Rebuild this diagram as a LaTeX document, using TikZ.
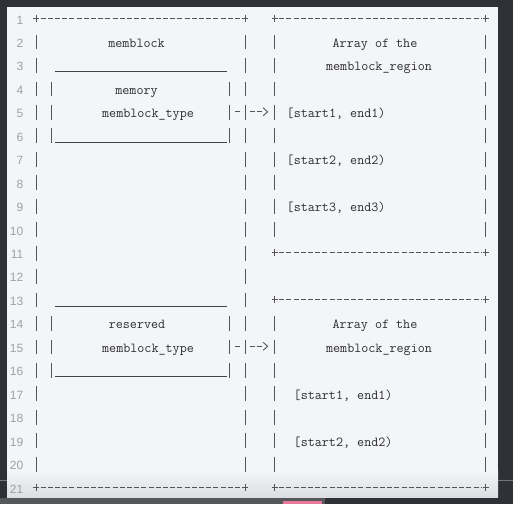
\documentclass[tikz,border=0pt]{standalone}
\usepackage{fontspec}
\usetikzlibrary{arrows.meta}
\newfontfamily\lnumf{Liberation Sans}
\definecolor{darkbg}{HTML}{2F3136}
\definecolor{stripgray}{HTML}{55575B}
\definecolor{pinkc}{HTML}{E9789B}
\definecolor{panel}{HTML}{F3F5F8}
\definecolor{panelbot}{HTML}{DCDEE1}
\definecolor{margline}{HTML}{75777B}
\definecolor{inkc}{HTML}{2E2E2E}
\definecolor{barc}{HTML}{555555}
\definecolor{lnumc}{HTML}{A0A0A0}
\def\ry#1{(-18-23.45*(#1-1))}
\tikzset{
  bar/.style={barc, line width=0.9pt},
  border/.style={barc, line width=0.9pt, dash pattern=on 5pt off 2.2pt},
  uline/.style={inkc!90, line width=1pt},
  txt/.style={inner sep=0pt, text=inkc, font=\ttfamily\fontsize{13.7}{15}\selectfont},
  lnum/.style={inner sep=0pt, text=lnumc, anchor=base east, font=\lnumf\fontsize{12}{14}\selectfont},
  conn/.style={barc, line width=0.9pt, dash pattern=on 5pt off 10pt on 5pt off 2.2pt on 5pt off 60pt,
    -{Straight Barb[length=4.5pt,width=8pt]}},
}
\newcommand\vbarat[2]{\draw[bar] (#1,{\ry{#2}+6.8}) -- (#1,{\ry{#2}-8});}
\newcommand\hborder[3]{%
  \draw[bar] (#1-3,{\ry{#3}}) -- (#1+3,{\ry{#3}}) (#1,{\ry{#3}+3.5}) -- (#1,{\ry{#3}-3.5});
  \draw[bar] (#2-3,{\ry{#3}}) -- (#2+3,{\ry{#3}}) (#2,{\ry{#3}+3.5}) -- (#2,{\ry{#3}-3.5});
  \draw[border] (#1+4.6,{\ry{#3}}) -- (#2-4.6,{\ry{#3}});}
\begin{document}
\begin{tikzpicture}[x=1pt,y=1pt]
\useasboundingbox (0,0) rectangle (513,-504);
% frame and panel
\fill[darkbg] (0,0) rectangle (513,-504);
\fill[stripgray] (0,-497.5) rectangle (325,-504);
\fill[pinkc] (283,-501) rectangle (322,-504);
\fill[panel] (7,-7) rectangle (498,-470);
\shade[top color=panel, bottom color=panelbot] (7,-470) rectangle (498,-497.5);
\draw[margline, line width=0.8pt] (0,-480.5) -- (7,-480.5) (498,-480.5) -- (513,-480.5);
% line numbers
\foreach \n in {1,...,21} {\node[lnum] (ln\n) at (23.5,{\ry{\n}-6}) {\n};}
% left outer box
\hborder{36}{245}{1}
\hborder{36}{245}{21}
\foreach \n in {2,...,20} {\vbarat{36}{\n}\vbarat{245}{\n}}
% inner box: memory
\draw[uline] (55,{\ry{3}-7}) -- (227,{\ry{3}-7});
\foreach \n in {4,5,6} {\vbarat{51}{\n}\vbarat{229}{\n}}
\draw[uline] (55,{\ry{6}-7}) -- (227,{\ry{6}-7});
% inner box: reserved
\draw[uline] (55,{\ry{13}-7}) -- (227,{\ry{13}-7});
\foreach \n in {14,15,16} {\vbarat{51}{\n}\vbarat{229}{\n}}
\draw[uline] (55,{\ry{16}-7}) -- (227,{\ry{16}-7});
% right box 1
\hborder{274.5}{485.5}{1}
\hborder{274.5}{485.5}{11}
\foreach \n in {2,...,10} {\vbarat{274.5}{\n}\vbarat{485.5}{\n}}
% right box 2
\hborder{274.5}{485.5}{13}
\hborder{274.5}{485.5}{21}
\foreach \n in {14,...,20} {\vbarat{274.5}{\n}\vbarat{485.5}{\n}}
% connectors
\coordinate (memR) at (229,{\ry{5}});
\coordinate (arrA) at (274.5,{\ry{5}});
\coordinate (resR) at (229,{\ry{15}});
\coordinate (arrB) at (274.5,{\ry{15}});
\draw[conn] ([xshift=5.5pt]memR) -- ([xshift=-6.2pt]arrA);
\draw[conn] ([xshift=5.5pt]resR) -- ([xshift=-6.2pt]arrB);
% texts
\node[txt,anchor=base] (tmemblock) at (136.5,{\ry{2}-6}) {memblock};
\node[txt,anchor=base] (tmemory) at (136.5,{\ry{4}-6}) {memory};
\node[txt,anchor=base] (ttype1) at (148,{\ry{5}-6}) {memblock\_type};
\node[txt,anchor=base] (treserved) at (137,{\ry{14}-6}) {reserved};
\node[txt,anchor=base] (ttype2) at (148,{\ry{15}-6}) {memblock\_type};
\node[txt,anchor=base] (tarr1) at (375,{\ry{2}-6}) {Array of the};
\node[txt,anchor=base] (treg1) at (379,{\ry{3}-6}) {memblock\_region};
\node[txt,anchor=base] (tarr2) at (375,{\ry{14}-6}) {Array of the};
\node[txt,anchor=base] (treg2) at (379,{\ry{15}-6}) {memblock\_region};
\node[txt,anchor=base west] (s11) at (286.5,{\ry{5}-6}) {[start1, end1)};
\node[txt,anchor=base west] (s12) at (286.5,{\ry{7}-6}) {[start2, end2)};
\node[txt,anchor=base west] (s13) at (286.5,{\ry{9}-6}) {[start3, end3)};
\node[txt,anchor=base west] (s21) at (293.5,{\ry{17}-6}) {[start1, end1)};
\node[txt,anchor=base west] (s22) at (293.5,{\ry{19}-6}) {[start2, end2)};
\end{tikzpicture}
\end{document}
